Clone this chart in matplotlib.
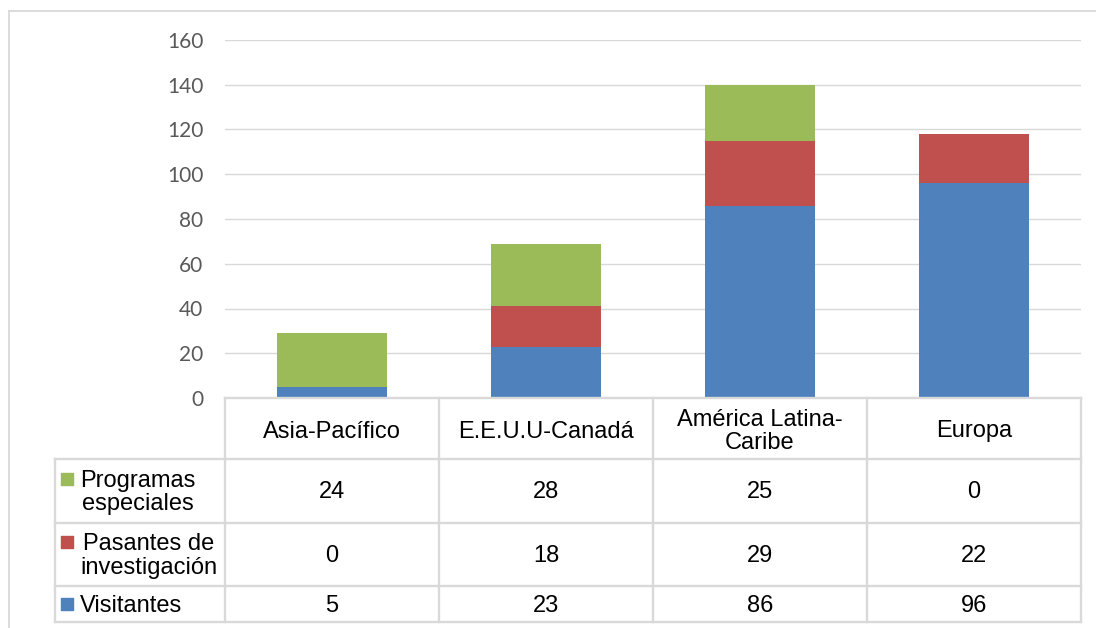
import matplotlib.pyplot as plt
from matplotlib.lines import Line2D

# Data
regiones = ["Asia-Pacífico", "E.E.U.U-Canadá", "América Latina-\nCaribe", "Europa"]
visitantes = [5, 23, 86, 96]
pasantes = [0, 18, 29, 22]
programas = [24, 28, 25, 0]
series_labels = ["Programas\nespeciales", "Pasantes de\ninvestigación", "Visitantes"]
y_ticks = [0, 20, 40, 60, 80, 100, 120, 140, 160]

BLUE = "#4F81BD"
RED = "#C0504D"
GREEN = "#9BBB59"
GRID = "#D9D9D9"

W, H = 1096, 628


def fax(l, t, r, b):
    # pixel box -> figure fraction rect
    return [l / W, 1 - b / H, (r - l) / W, (b - t) / H]


fig = plt.figure(figsize=(W / 100, H / 100), dpi=100)

# outer chart border (runs off the right / bottom)
fig.add_artist(Line2D([8.5 / W, 8.5 / W], [0, 1 - 10.5 / H], color=GRID, lw=1.3, transform=fig.transFigure))
fig.add_artist(Line2D([8.5 / W, 1], [1 - 10.5 / H, 1 - 10.5 / H], color=GRID, lw=1.3, transform=fig.transFigure))

# stacked bars
ax = fig.add_axes(fax(225, 40, 1081, 398))
x = range(len(regiones))
bw = 110 / 214
ax.bar(x, visitantes, bw, color=BLUE, zorder=3)
ax.bar(x, pasantes, bw, bottom=visitantes, color=RED, zorder=3)
bottom2 = [v + p for v, p in zip(visitantes, pasantes)]
ax.bar(x, programas, bw, bottom=bottom2, color=GREEN, zorder=3)

ax.set_xlim(-0.5, len(regiones) - 0.5)
ax.set_ylim(0, 160)
ax.set_yticks(y_ticks)
ax.set_xticks([])
ax.yaxis.grid(True, color=GRID, lw=1)
ax.set_axisbelow(True)
for s in ax.spines.values():
    s.set_visible(False)
ax.tick_params(axis="y", length=0, pad=15.5, labelsize=15, labelcolor="#595959")
for lbl in ax.get_yticklabels():
    lbl.set_family(["Lato", "DejaVu Sans"])

# data table below
label_w = 170 / 214
row_edges = [0, 61, 125, 188, 224]
tax = fig.add_axes(fax(55, 398, 1081, 622))
x0 = -0.5 - label_w
tax.set_xlim(x0, len(regiones) - 0.5)
tax.set_ylim(224, 0)
tax.axis("off")

lk = dict(color=GRID, lw=1.7, clip_on=False, solid_capstyle="projecting")
tax.plot([-0.5, len(regiones) - 0.5], [row_edges[0]] * 2, **lk)
for e in row_edges[1:]:
    tax.plot([x0, len(regiones) - 0.5], [e, e], **lk)
tax.plot([x0, x0], [row_edges[1], row_edges[-1]], **lk)
for i in range(len(regiones) + 1):
    tax.plot([i - 0.5, i - 0.5], [row_edges[0], row_edges[-1]], **lk)

tfont = dict(family=["Liberation Sans", "DejaVu Sans"], fontsize=17, color="black")

for i, r in enumerate(regiones):
    tax.text(i, (row_edges[0] + row_edges[1]) / 2 + 3, r, ha="center", va="center",
             multialignment="center", linespacing=1.1, **tfont)

rows = [programas, pasantes, visitantes]
colors = [GREEN, RED, BLUE]
px = 214 / 1.0  # pixels per column unit
for k, (vals, lab, c) in enumerate(zip(rows, series_labels, colors)):
    yc = (row_edges[k + 1] + row_edges[k + 2]) / 2
    for i, v in enumerate(vals):
        tax.text(i, yc + 1.5, str(v), ha="center", va="center", **tfont)
    nlines = lab.count("\n") + 1
    first = yc - (nlines - 1) * 12.5
    tax.scatter([x0 + 12 / px], [first], marker="s", s=8 ** 2, color=c, clip_on=False)
    tax.text(x0 + 25 / px, yc + 1.5, lab, ha="left", va="center", multialignment="center",
             linespacing=1.1, **tfont)

fig.savefig("out.png", dpi=100)
